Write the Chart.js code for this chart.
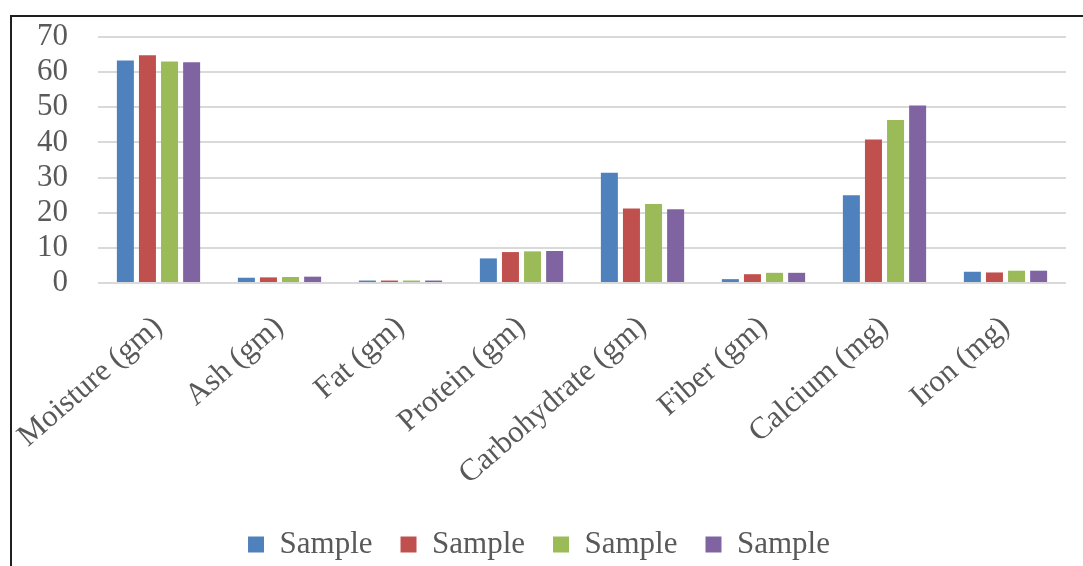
<!DOCTYPE html>
<html>
<head>
<meta charset="utf-8">
<script src="https://cdn.jsdelivr.net/npm/chart.js@4.4.1/dist/chart.umd.min.js"></script>
<style>
  html, body { margin: 0; padding: 0; background: #ffffff; }
  #page { position: relative; width: 1083px; height: 566px; overflow: hidden; background: #ffffff; }
  #frame { position: absolute; left: 10px; top: 15px; right: 0; bottom: 0;
           border-left: 2px solid #1f1f1f; border-top: 2px solid #1f1f1f; }
  #box { position: absolute; left: 12px; top: 17px; width: 1071px; height: 553px; }
</style>
</head>
<body>
<div id="page">
  <div id="frame"></div>
  <div id="box"><canvas id="chart"></canvas></div>
</div>
<script>
// Nutrient composition of four samples
const categories = ['Moisture (gm)', 'Ash (gm)', 'Fat (gm)', 'Protein (gm)',
                    'Carbohydrate (gm)', 'Fiber (gm)', 'Calcium (mg)', 'Iron (mg)'];
const seriesNames = ['Sample', 'Sample', 'Sample', 'Sample'];
const sample1 = [63.3, 1.5, 0.7, 7.0, 31.4, 1.1, 25.0, 3.2];
const sample2 = [64.8, 1.6, 0.7, 8.8, 21.2, 2.5, 40.8, 3.0];
const sample3 = [63.0, 1.7, 0.7, 9.0, 22.5, 2.9, 46.4, 3.5];
const sample4 = [62.8, 1.8, 0.7, 9.1, 21.0, 2.9, 50.5, 3.5];
const yTicks = [0, 10, 20, 30, 40, 50, 60, 70];

const colors = ['#4F81BD', '#C0504D', '#9BBB59', '#8064A2'];
const values = [sample1, sample2, sample3, sample4];
const textColor = '#595959';
const fontFamily = '"Liberation Serif", "Times New Roman", serif';

const datasets = values.map((v, i) => ({
  label: seriesNames[i],
  data: v,
  backgroundColor: colors[i],
  borderWidth: 0,
  barPercentage: 0.77,
  categoryPercentage: 0.73
}));

// Fixed axis sizes so the plot area sits in a set place
function fixedHeight(h) {
  return (scale) => { scale.height = h; scale.paddingLeft = 0; scale.paddingRight = 0; };
}
function fixedWidth(w) {
  return (scale) => { scale.width = w; scale.paddingTop = 0; scale.paddingBottom = 0; };
}

new Chart(document.getElementById('chart'), {
  type: 'bar',
  data: { labels: categories, datasets: datasets },
  options: {
    responsive: true,
    maintainAspectRatio: false,
    animation: false,
    layout: { padding: { top: 20, right: 17, left: 0, bottom: 0 } },
    plugins: {
      tooltip: { enabled: false },
      legend: {
        position: 'bottom',
        labels: {
          color: textColor,
          font: { family: fontFamily, size: 31 },
          boxWidth: 16,
          boxHeight: 16,
          padding: 28
        }
      }
    },
    scales: {
      x: {
        grid: { display: false },
        border: { display: false },
        ticks: {
          color: textColor,
          font: { family: fontFamily, size: 31 },
          minRotation: 41,
          maxRotation: 41,
          autoSkip: false,
          padding: 18
        },
        afterFit: fixedHeight(218)
      },
      y: {
        min: 0,
        max: 70,
        afterBuildTicks: (scale) => { scale.ticks = yTicks.map(v => ({ value: v })); },
        grid: { color: '#D9D9D9', lineWidth: 2, drawTicks: false },
        border: { display: false },
        ticks: {
          color: textColor,
          font: { family: fontFamily, size: 31 },
          autoSkip: false,
          padding: 30
        },
        afterFit: fixedWidth(86)
      }
    }
  }
});
</script>
</body>
</html>
